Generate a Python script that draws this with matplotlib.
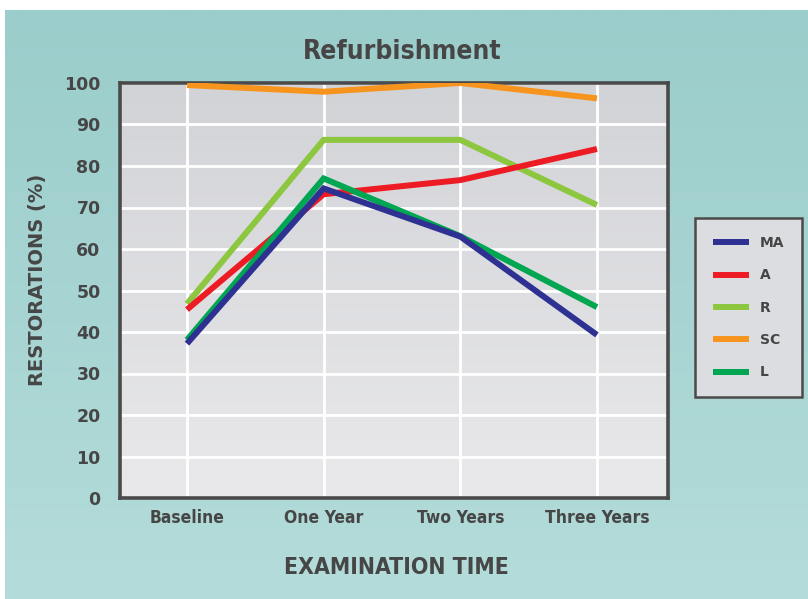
import numpy as np
from matplotlib import pyplot as plt
from matplotlib.colors import LinearSegmentedColormap

# values
times = ['Baseline', 'One Year', 'Two Years', 'Three Years']
ma = [37.2, 74.6, 63.0, 39.3]
a = [45.4, 73.2, 76.6, 84.1]
r = [46.8, 86.3, 86.3, 70.6]
sc = [99.5, 97.9, 100.0, 96.3]
l = [38.1, 77.0, 63.1, 46.0]

series = [('MA', ma, '#2e3192'), ('A', a, '#ed1c24'), ('R', r, '#8dc63f'),
          ('SC', sc, '#f7941d'), ('L', l, '#00a651')]
draw_order = ['R', 'A', 'L', 'MA', 'SC']

TXT = '#464646'
narrow = dict(fontfamily='DejaVu Sans', fontstretch='condensed', fontweight='bold')

fig = plt.figure(figsize=(8.08, 5.99), dpi=100)
fig.patch.set_facecolor('white')

# teal gradient panel behind everything
bg = fig.add_axes([5 / 808, 0, 803 / 808, 589 / 599], zorder=-10)
bg_cmap = LinearSegmentedColormap.from_list('bg', ['#9acdcb', '#b4dcda'])
bg.imshow(np.linspace(0, 1, 256).reshape(-1, 1), aspect='auto', cmap=bg_cmap,
          extent=[0, 1, 0, 1], origin='upper')
bg.set_axis_off()

ax = fig.add_axes([120 / 808, 101 / 599, 548 / 808, 415 / 599])
x = np.arange(len(times))
ax.set_xlim(-0.49, 3.52)
ax.set_ylim(0, 100)

# grey gradient plot area
pa_cmap = LinearSegmentedColormap.from_list('pa', ['#d2d3d7', '#e9e9eb'])
ax.imshow(np.linspace(0, 1, 256).reshape(-1, 1), aspect='auto', cmap=pa_cmap,
          extent=[-0.49, 3.52, 0, 100], origin='upper', zorder=0)

ax.set_xticks(x)
ax.set_xticklabels(times, fontsize=12.5, color=TXT, **narrow)
ax.set_yticks(np.arange(0, 101, 10))
ax.set_yticklabels([str(v) for v in range(0, 101, 10)], fontfamily='DejaVu Sans',
                   fontweight='bold', fontsize=12.5, color=TXT)
ax.tick_params(axis='x', length=0, pad=8)
ax.tick_params(axis='y', length=0, pad=14)
ax.grid(color='white', linewidth=2, zorder=1)
ax.set_axisbelow(True)
for s in ax.spines.values():
    s.set_color('#4a4a4a')
    s.set_linewidth(2.6)

lines = {}
for name in draw_order:
    for n, vals, col in series:
        if n == name:
            lines[n], = ax.plot(x, vals, color=col, linewidth=4.3, label=n,
                                solid_capstyle='butt', solid_joinstyle='miter', zorder=3)

handles = [lines[n] for n, _, _ in series]
leg = fig.legend(handles, [n for n, _, _ in series], loc='upper left',
                 bbox_to_anchor=(695 / 808, 1 - 218 / 599), frameon=True,
                 fancybox=False, handlelength=2.6, handletextpad=0.75,
                 labelspacing=1.32, borderpad=1.3, borderaxespad=0,
                 prop={'family': 'DejaVu Sans', 'weight': 'bold', 'size': 10})
leg.get_frame().set_facecolor('#dcdde0')
leg.get_frame().set_edgecolor('#4a4a4a')
leg.get_frame().set_linewidth(1.8)
leg.get_frame().set_alpha(1)
for t in leg.get_texts():
    t.set_color(TXT)

fig.text(402 / 808, 1 - 52 / 599, 'Refurbishment', ha='center', va='center',
         fontsize=19, color=TXT, **narrow)
fig.text(396 / 808, 1 - 567 / 599, 'EXAMINATION TIME', ha='center', va='center',
         fontsize=16.5, color=TXT, **narrow)
fig.text(38 / 808, 1 - 280 / 599, 'RESTORATIONS (%)', ha='center', va='center',
         rotation=90, fontfamily='DejaVu Sans', fontweight='bold', fontsize=14, color=TXT)

plt.savefig('out.png', dpi=100)
